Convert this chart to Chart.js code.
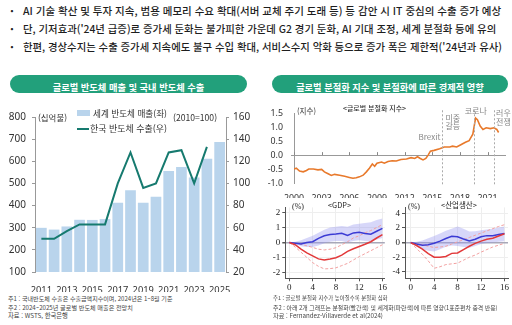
<!DOCTYPE html>
<html lang="ko">
<head>
<meta charset="utf-8">
<script src="https://cdn.jsdelivr.net/npm/chart.js@4.4.1/dist/chart.umd.min.js"></script>
<style>
  body { margin:0; width:512px; height:325px; background:#fff; position:relative; overflow:hidden;
         font-family:"Noto Sans CJK KR","Noto Sans",sans-serif; color:#222; }
  .t { position:absolute; white-space:nowrap; line-height:1; transform:translateY(-50%); }
  .bl { font-size:11px; font-weight:500; color:#1e1e1e; }
  .dot { font-size:12px; font-weight:700; }
  .pill { position:absolute; top:75px; height:18px; border-radius:9px; background:#22a07b; color:#fff;
          font-weight:700; text-align:center; line-height:18px; }
  .pill span { font-size:10px; }
  canvas { position:absolute; }
  .note { font-size:6px; color:#444; }
  .lg { font-size:8.2px; color:#333; }
  .fan { font-size:8.5px; color:#222; }
</style>
</head>
<body>
<div class="t dot" style="left:10px;top:11px">·</div>
<div class="t bl" data-w="479" style="left:23px;top:11px">AI 기술 확산 및 투자 지속, 범용 메모리 수요 확대(서버 교체 주기 도래 등) 등 감안 시 IT 중심의 수출 증가 예상</div>
<div class="t dot" style="left:10px;top:29px">·</div>
<div class="t bl" data-w="474" style="left:23px;top:29px">단, 기저효과('24년 급증)로 증가세 둔화는 불가피한 가운데 G2 경기 둔화, AI 기대 조정, 세계 분절화 등에 유의</div>
<div class="t dot" style="left:10px;top:47px">·</div>
<div class="t bl" data-w="479" style="left:23px;top:47px">한편, 경상수지는 수출 증가세 지속에도 불구 수입 확대, 서비스수지 악화 등으로 증가 폭은 제한적('24년과 유사)</div>

<div class="pill" style="left:10px;width:237px"><span data-w="152">글로벌 반도체 매출 및 국내 반도체 수출</span></div>
<div class="pill" style="left:272px;width:236px"><span data-w="188">글로벌 분절화 지수 및 분절화에 따른 경제적 영향</span></div>

<canvas id="semi" width="256" height="192" style="left:0;top:100px"></canvas>
<div class="t lg" data-w="29" style="left:38px;top:117px">(십억불)</div>
<div class="t lg" data-w="44" style="left:173px;top:117px">(2010=100)</div>
<div style="position:absolute;left:77px;top:110px;width:13px;height:6px;background:#b9d4ec"></div>
<div class="t lg" data-w="74" style="left:93px;top:113px">세계 반도체 매출(좌)</div>
<div style="position:absolute;left:77px;top:127.5px;width:12px;height:2px;background:#167a6f"></div>
<div class="t lg" data-w="77" style="left:90px;top:128.5px">한국 반도체 수출(우)</div>

<div class="t note" data-w="165" style="left:8px;top:299px">주1 : 국내반도체 수출은 수출금액지수이며, 2024년은 1~8월 기준</div>
<div class="t note" data-w="125" style="left:8px;top:307.5px">주2 : 2024~2025년 글로벌 반도체 매출은 전망치</div>
<div class="t note" data-w="60" style="left:8px;top:316px">자료 : WSTS, 한국은행</div>

<canvas id="frag" width="256" height="98" style="left:256px;top:100px"></canvas>
<div class="t lg" data-w="19" style="left:297px;top:111px">(지수)</div>
<div class="t lg" data-w="63" style="left:343px;top:108px;font-weight:500">&lt;글로벌 분절화 지수&gt;</div>

<canvas id="gdp" width="136" height="92" style="left:252px;top:200px"></canvas>
<canvas id="ip" width="128" height="92" style="left:384px;top:200px"></canvas>
<div class="t fan" data-w="23" style="left:328px;top:205px">&lt;GDP&gt;</div>
<div class="t fan" data-w="36" style="left:441px;top:205px">&lt;산업생산&gt;</div>
<div class="t fan" style="left:292px;top:207px;font-family:'Liberation Serif';font-size:8px">(%)</div>
<div class="t fan" style="left:408px;top:207px;font-family:'Liberation Serif';font-size:8px">(%)</div>

<div class="t note" data-w="115" style="left:273px;top:299.3px">주1 : 글로벌 분절화 지수가 높아질수록 분절화 심화</div>
<div class="t note" data-w="225" style="left:273px;top:307.5px">주2 : 아래 2개 그래프는 분절화(빨간색) 및 세계화(파란색)에 따른 영향(1표준편차 충격 반응)</div>
<div class="t note" data-w="110" style="left:273px;top:316.3px">자료 : Fernandez-Villaverde et al(2024)</div>

<script>
// 세계 반도체 매출(십억불, 좌) / 한국 반도체 수출(2010=100, 우)
const years = ['2011', '2012', '2013', '2014', '2015', '2016', '2017', '2018',
               '2019', '2020', '2021', '2022', '2023', '2024', '2025'];
const worldSales = [299.5, 291.6, 305.6, 335.8, 335.2, 338.9, 412.2, 468.8,
                    412.3, 440.4, 555.9, 574.1, 526.9, 611.2, 687.4];
const koreaExports = [50, 50, 57, 63, 63, 63, 100, 128, 96, 100, 128, 130, 100, 133, null];

// 글로벌 분절화 지수 (연도, 지수)
const fragYears = [2000.0, 2000.25, 2000.6, 2001.0, 2001.35, 2001.6, 2002.1, 2002.6, 2003.0, 2003.3,
                   2003.7, 2004.05, 2004.4, 2004.95, 2005.5, 2006.0, 2006.4, 2006.75, 2007.1, 2007.5,
                   2007.85, 2008.2, 2008.5, 2008.75, 2009.0, 2009.5, 2009.8, 2010.2, 2010.65, 2011.1,
                   2011.6, 2012.2, 2012.7, 2013.1, 2013.4, 2013.7, 2014.0, 2014.3, 2014.55, 2014.8,
                   2015.2, 2015.8, 2016.3, 2016.9, 2017.2, 2017.65, 2018.1, 2018.6, 2019.0, 2019.4,
                   2019.7, 2019.9, 2020.2, 2020.5, 2020.85, 2021.3, 2021.7, 2022.0, 2022.2];
const fragIndex = [-0.5, -0.47, -0.57, -0.6, -0.55, -0.5, -0.5, -0.53, -0.51, -0.6,
                   -0.67, -0.73, -0.69, -0.72, -0.76, -0.8, -0.83, -0.81, -0.78, -0.72,
                   -0.6, -0.46, -0.32, -0.4, -0.29, -0.25, -0.29, -0.23, -0.2, -0.21,
                   -0.16, -0.14, -0.09, -0.12, -0.06, -0.12, -0.17, -0.12, 0.0, 0.14,
                   0.17, 0.23, 0.29, 0.29, 0.32, 0.29, 0.37, 0.46, 0.52, 0.75,
                   1.33, 1.27, 1.04, 0.92, 0.98, 0.95, 0.98, 0.92, 0.81];
const fragTicks = [2000, 2003, 2006, 2009, 2012, 2015, 2018, 2021];
const eventYears = [2016.1, 2019.5, 2021.7];
const eventLabels = [['Brexit', '미중', '갈등'], ['코로나'], ['러우', '전쟁']];

// 충격 반응 (분기 0~16, %)
const quarters = [0, 1, 2, 3, 4, 5, 6, 7, 8, 9, 10, 11, 12, 13, 14, 15, 16];
const gdpGlobal   = [0, -0.05, -0.1, 0, 0.05, 0.28, 0.45, 0.53, 0.57, 0.62, 0.47, 0.64, 0.68, 0.6, 0.55, 0.75, 0.95];
const gdpGlobalHi = [0, 0.05, 0.15, 0.3, 0.45, 0.65, 0.85, 1.0, 1.05, 1.1, 1.05, 1.2, 1.25, 1.3, 1.35, 1.5, 1.6];
const gdpGlobalLo = [0, -0.1, -0.25, -0.3, -0.3, -0.2, -0.05, 0.05, 0.1, 0.1, 0.0, 0.1, 0.15, 0.1, 0.05, 0.2, 0.3];
const gdpFrag     = [0, -0.15, -0.45, -0.7, -0.9, -1.1, -1.17, -1.1, -1.02, -0.85, -0.6, -0.42, -0.27, -0.12, 0.05, 0.3, 0.52];
const gdpFragHi   = [0, -0.05, -0.12, -0.22, -0.33, -0.45, -0.5, -0.45, -0.35, -0.15, 0.05, 0.3, 0.45, 0.65, 0.8, 1.0, 1.2];
const gdpFragLo   = [0, -0.3, -0.65, -1.0, -1.35, -1.6, -1.77, -1.75, -1.7, -1.55, -1.4, -1.17, -0.95, -0.75, -0.55, -0.35, -0.15];
const ipGlobal    = [0, -0.2, -0.35, -0.3, -0.1, 0.2, 0.55, 0.85, 0.8, 0.5, 0.22, 0.45, 0.8, 0.95, 0.95, 1.1, 1.25];
const ipGlobalHi  = [0, 0.1, 0.3, 0.6, 0.9, 1.25, 1.6, 1.9, 2.2, 1.9, 1.5, 1.55, 1.7, 1.8, 1.9, 2.05, 2.2];
const ipGlobalLo  = [0, -0.5, -0.9, -1.1, -1.2, -0.9, -0.55, -0.4, -0.45, -0.6, -0.7, -0.45, -0.2, -0.05, 0.0, 0.1, 0.2];
const ipFrag      = [0, -0.4, -0.9, -1.5, -2.0, -2.0, -1.9, -1.47, -1.42, -0.95, -0.5, -0.1, 0.2, 0.45, 0.6, 0.9, 1.2];
const ipFragHi    = [0, -0.15, -0.3, -0.5, -0.67, -0.6, -0.5, -0.2, 0.1, 0.4, 0.7, 1.0, 1.3, 1.6, 1.9, 2.2, 2.44];
const ipFragLo    = [0, -0.8, -1.6, -2.5, -3.5, -3.3, -3.0, -2.9, -2.8, -2.4, -2.0, -1.7, -1.3, -0.95, -0.6, -0.35, -0.1];

// 글자 폭을 지정 폭에 맞춤
document.querySelectorAll('[data-w]').forEach(el => {
  const fs = parseFloat(getComputedStyle(el).fontSize);
  el.style.fontSize = (fs * (+el.dataset.w) / el.getBoundingClientRect().width) + 'px';
});

const numFont = { family: "'Noto Sans', sans-serif", size: 10 };
const smallFont = { family: "'Noto Sans', sans-serif", size: 8.8 };

new Chart(document.getElementById('semi'), {
  data: {
    labels: years,
    datasets: [
      { type: 'line', data: koreaExports, yAxisID: 'y1', borderColor: '#167a6f', borderWidth: 2,
        pointRadius: 0, tension: 0 },
      { type: 'bar', data: worldSales, yAxisID: 'y', backgroundColor: '#b9d4ec',
        barPercentage: 0.84, categoryPercentage: 1 }
    ]
  },
  options: {
    responsive: false,
    animation: false,
    layout: { padding: { top: 17, left: 0, right: 0, bottom: 0 } },
    plugins: { legend: { display: false }, tooltip: { enabled: false } },
    scales: {
      x: {
        grid: { display: false },
        border: { display: false },
        ticks: { color: '#333', font: { ...numFont, size: 9.3 }, padding: 5, autoSkip: false, maxRotation: 0,
                 callback: (v, i) => (i % 2 === 0 ? years[i] : '') },
        afterFit: s => { s.height = 20; }
      },
      y: {
        position: 'left', min: 100, max: 800,
        ticks: { stepSize: 100, color: '#333', font: numFont, padding: 6 },
        grid: { drawOnChartArea: false, tickLength: 3, color: '#999' },
        border: { color: '#999' },
        afterFit: s => { s.width = 35; }
      },
      y1: {
        position: 'right', min: 20, max: 160,
        ticks: { stepSize: 20, color: '#333', font: numFont, padding: 4 },
        grid: { drawOnChartArea: false, tickLength: 3, color: '#999' },
        border: { color: '#999' },
        afterFit: s => { s.width = 30; }
      }
    }
  }
});

// 사건 시점 점선과 라벨, 0선 위의 눈금
const fragMarks = {
  id: 'fragMarks',
  afterDatasetsDraw(chart) {
    const { ctx, chartArea, scales: { x, y } } = chart;
    const y0 = y.getPixelForValue(0);
    ctx.save();
    ctx.strokeStyle = '#888';
    ctx.lineWidth = 1;
    x.ticks.forEach(t => {
      const px = Math.round(x.getPixelForValue(t.value)) + 0.5;
      ctx.beginPath(); ctx.moveTo(px, y0 - 3); ctx.lineTo(px, y0); ctx.stroke();
    });
    ctx.setLineDash([2, 2]);
    ctx.strokeStyle = '#aaa';
    eventYears.forEach(ev => {
      const px = Math.round(x.getPixelForValue(ev)) + 0.5;
      ctx.beginPath(); ctx.moveTo(px, chartArea.top - 3); ctx.lineTo(px, chartArea.bottom + 2); ctx.stroke();
    });
    ctx.setLineDash([]);
    ctx.fillStyle = '#888';
    ctx.font = "8px 'Noto Sans CJK KR'";
    ctx.textBaseline = 'middle';
    const e1 = x.getPixelForValue(eventYears[0]);
    const e2 = x.getPixelForValue(eventYears[1]);
    const e3 = x.getPixelForValue(eventYears[2]);
    ctx.textAlign = 'right';
    ctx.fillText(eventLabels[0][0], e1 - 2, y.getPixelForValue(0.65));
    ctx.textAlign = 'left';
    ctx.fillText(eventLabels[0][1], e1 + 3, y.getPixelForValue(1.35));
    ctx.fillText(eventLabels[0][2], e1 + 3, y.getPixelForValue(1.05));
    ctx.textAlign = 'center';
    ctx.fillText(eventLabels[1][0], e2 + 2, y.getPixelForValue(1.6));
    ctx.textAlign = 'left';
    ctx.fillText(eventLabels[2][0], e3 + 2, y.getPixelForValue(1.5));
    ctx.fillText(eventLabels[2][1], e3 + 2, y.getPixelForValue(1.2));
    ctx.restore();
  }
};

new Chart(document.getElementById('frag'), {
  type: 'line',
  data: {
    datasets: [{
      data: fragYears.map((yr, i) => ({ x: yr, y: fragIndex[i] })),
      borderColor: '#e8792b', borderWidth: 1.6, pointRadius: 0, tension: 0
    }]
  },
  options: {
    responsive: false,
    animation: false,
    layout: { padding: { top: 10, right: 6, left: 0, bottom: 0 } },
    plugins: { legend: { display: false }, tooltip: { enabled: false } },
    scales: {
      x: {
        type: 'linear', min: 2000, max: 2023,
        grid: { display: false },
        border: { display: false },
        afterBuildTicks: s => { s.ticks = fragTicks.map(v => ({ value: v })); },
        ticks: { color: '#333', font: smallFont, padding: 2, maxRotation: 0, autoSkip: false,
                 callback: v => String(v) },
        afterFit: s => { s.height = 15; }
      },
      y: {
        min: -1, max: 1.5,
        ticks: { stepSize: 0.5, color: '#333', font: smallFont, padding: 8,
                 callback: v => v.toFixed(1) },
        grid: { tickLength: 3, color: c => (c.tick && c.tick.value === 0 ? '#999' : 'transparent') },
        border: { color: '#999' },
        afterFit: s => { s.width = 38; }
      }
    }
  },
  plugins: [fragMarks]
});

function fanChart(id, lines, yMin, yMax, yStep, xMin, xMax, leftW, rightPad) {
  const serif = { family: "'Liberation Serif', serif", size: 9 };
  const pts = arr => quarters.map((q, i) => ({ x: q, y: arr[i] }));
  new Chart(document.getElementById(id), {
    type: 'line',
    data: {
      datasets: [
        { data: pts(lines.frag), borderColor: '#e2393a', borderWidth: 1.5, pointRadius: 0 },
        { data: pts(lines.global), borderColor: '#3b3bd4', borderWidth: 1.5, pointRadius: 0 },
        { data: pts(lines.fragHi), borderColor: '#f2a0a0', borderWidth: 1, borderDash: [3, 2], pointRadius: 0 },
        { data: pts(lines.fragLo), borderColor: '#f2a0a0', borderWidth: 1, borderDash: [3, 2], pointRadius: 0 },
        { data: pts(lines.globalHi), borderWidth: 0, pointRadius: 0, fill: '+1',
          backgroundColor: 'rgba(150,150,240,0.38)' },
        { data: pts(lines.globalLo), borderWidth: 0, pointRadius: 0 }
      ]
    },
    options: {
      responsive: false,
      animation: false,
      layout: { padding: { top: 5, right: rightPad, left: 0, bottom: 0 } },
      plugins: { legend: { display: false }, tooltip: { enabled: false } },
      scales: {
        x: {
          type: 'linear', min: xMin, max: xMax,
          ticks: { stepSize: 4, includeBounds: false, color: '#222', font: serif, padding: 1, maxRotation: 0 },
          grid: { color: '#eeeeee', tickLength: 3, tickColor: '#555' },
          border: { color: '#555' },
          afterFit: s => { s.height = 13.7; }
        },
        y: {
          min: yMin, max: yMax,
          ticks: { stepSize: yStep, includeBounds: false, color: '#222', font: serif, padding: 2 },
          grid: { color: c => (c.tick && c.tick.value === 0 ? '#a8a8b8' : '#eeeeee'),
                  lineWidth: c => (c.tick && c.tick.value === 0 ? 1.5 : 1),
                  tickLength: 3, tickColor: '#555' },
          border: { color: '#555' },
          afterFit: s => { s.width = leftW; }
        }
      }
    }
  });
}

fanChart('gdp', { global: gdpGlobal, globalHi: gdpGlobalHi, globalLo: gdpGlobalLo,
                  frag: gdpFrag, fragHi: gdpFragHi, fragLo: gdpFragLo },
         -2.4, 2.35, 1, -0.7, 16.4, 33.3, 1.3);
fanChart('ip', { global: ipGlobal, globalHi: ipGlobalHi, globalLo: ipGlobalLo,
                 frag: ipFrag, fragHi: ipFragHi, fragLo: ipFragLo },
         -4.87, 4.8, 2, -0.97, 16.6, 21, 4);
</script>
</body>
</html>
